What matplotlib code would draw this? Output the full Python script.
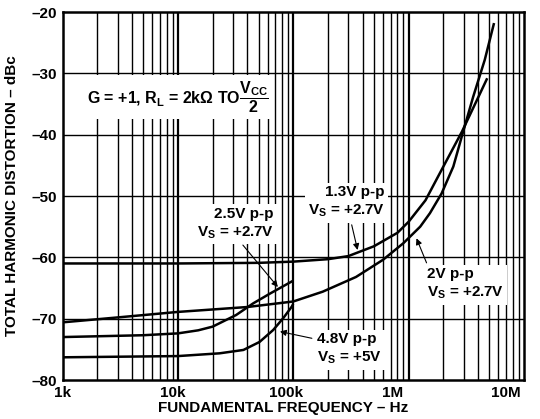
import numpy as np
import matplotlib
matplotlib.use("Agg")
import matplotlib.pyplot as plt
from matplotlib.ticker import FixedLocator, NullFormatter
from matplotlib.transforms import ScaledTranslation

plt.rcParams['font.family'] = ['Liberation Sans', 'DejaVu Sans']
plt.rcParams['font.weight'] = 'bold'
plt.rcParams['mathtext.fontset'] = 'custom'
plt.rcParams['mathtext.rm'] = 'Liberation Sans:bold'
plt.rcParams['mathtext.it'] = 'Liberation Sans:bold'
plt.rcParams['mathtext.bf'] = 'Liberation Sans:bold'
plt.rcParams['mathtext.default'] = 'rm'

# ---- data (Hz, dBc) ----
f_13 = [1e3, 1e4, 5e4, 1e5, 2e5, 3e5, 5e5, 8e5, 1e6, 1.4e6, 2e6, 2.9e6, 3.9e6, 4.8e6]
thd_13 = [-61.0, -61.0, -60.9, -60.7, -60.3, -59.8, -58.2, -56.0, -54.2, -50.7, -45.2, -39.5, -34.4, -30.8]

f_2 = [1e3, 3e3, 1e4, 4e4, 1e5, 1.8e5, 3.5e5, 6e5, 9e5, 1.26e6, 1.53e6, 1.93e6, 2.44e6, 2.97e6, 3.63e6, 4.57e6, 5.5e6]
thd_2 = [-70.6, -69.8, -68.9, -68.1, -67.2, -65.6, -63.2, -60.4, -57.7, -55.0, -52.8, -49.6, -45.2, -39.5, -33.8, -27.8, -21.8]

f_25 = [1e3, 5e3, 1e4, 1.5e4, 2e4, 3.2e4, 4.5e4, 6.3e4, 1e5]
thd_25 = [-73.0, -72.7, -72.4, -71.9, -71.3, -69.4, -67.5, -65.9, -63.8]

f_48 = [1e3, 1e4, 2.3e4, 3.7e4, 5.1e4, 6.7e4, 8.2e4, 9.7e4, 1e5]
thd_48 = [-76.3, -76.1, -75.65, -75.1, -73.8, -71.85, -69.9, -68.05, -67.6]

xticks = [1e3, 1e4, 1e5, 1e6, 1e7]
xticklabels = ['1k', '10k', '100k', '1M', '10M']
yticks = [-80, -70, -60, -50, -40, -30, -20]
yticklabels = ['\u201380', '\u201370', '\u201360', '\u201350', '\u201340', '\u201330', '\u201320']

FS = 11

fig = plt.figure(figsize=(5.4, 4.19), dpi=100)
ax = fig.add_axes([62.5/540, 1-380/419, (524-62.5)/540, (380-12)/419])
ax.set_xscale('log')
ax.set_xlim(1e3, 1e7)
ax.set_ylim(-80, -20)

# grid
minor = [m * 10**d for d in range(3, 7) for m in range(2, 10)]
ax.xaxis.set_major_locator(FixedLocator(xticks))
ax.xaxis.set_minor_locator(FixedLocator(minor))
ax.xaxis.set_minor_formatter(NullFormatter())
ax.set_yticks(yticks)
for x in minor:
    ax.axvline(x, color='black', lw=1.0, zorder=1)
for x in xticks[1:-1]:
    ax.axvline(x, color='black', lw=1.6, zorder=1)
for y in yticks[1:-1]:
    ax.axhline(y, color='black', lw=1.0, zorder=1)
for s in ax.spines.values():
    s.set_linewidth(1.8)
ax.tick_params(which='both', length=0, labelsize=FS, pad=4)
ax.set_xticklabels(xticklabels, fontweight='bold')
ax.set_yticklabels(yticklabels, fontweight='bold')
offs = [0, -5, -7, -16, -18]
for lab, o in zip(ax.get_xticklabels(), offs):
    lab.set_transform(lab.get_transform() + ScaledTranslation(o/100, 0, fig.dpi_scale_trans))

ax.set_xlabel('FUNDAMENTAL FREQUENCY \u2013 Hz', fontsize=FS, fontweight='bold')
ax.xaxis.set_label_coords(0.477, -0.058)
ax.set_ylabel('TOTAL HARMONIC DISTORTION \u2013 dBc', fontsize=FS, fontweight='bold')
ax.yaxis.set_label_coords(-0.094, 0.5)

# curves
for f, t in [(f_13, thd_13), (f_2, thd_2), (f_25, thd_25), (f_48, thd_48)]:
    ax.plot(f, t, color='black', lw=1.8, zorder=3, solid_capstyle='butt')

bb = dict(boxstyle='square,pad=0.25', facecolor='white', edgecolor='none')
ax.text(1.62e3, -33.9, 'G = +1, R$_L$ = 2k\u03a9 TO$\\dfrac{V_{CC}}{2}$', fontsize=FS + 0.5,
        fontweight='bold', va='center', ha='left', bbox=bb, zorder=2)

ax.text(6.7e4, -54.5, '2.5V p-p\nV$_S$ = +2.7V', fontsize=FS, fontweight='bold',
        ha='right', va='center', multialignment='right', linespacing=1.3, bbox=bb, zorder=2)
ax.text(6.2e5, -51.0, '1.3V p-p\nV$_S$ = +2.7V', fontsize=FS, fontweight='bold',
        ha='right', va='center', multialignment='right', linespacing=1.3, bbox=bb, zorder=2)
ax.text(1.44e6, -64.4, '2V p-p\nV$_S$ = +2.7V', fontsize=FS, fontweight='bold',
        ha='left', va='center', multialignment='left', linespacing=1.3, bbox=bb, zorder=2)
ax.text(1.6e5, -75.0, '4.8V p-p\nV$_S$ = +5V', fontsize=FS, fontweight='bold',
        ha='left', va='center', multialignment='left', linespacing=1.3, bbox=bb, zorder=2)

ap = dict(arrowstyle='-|>', lw=0.8, color='black', mutation_scale=9, shrinkA=0, shrinkB=0)
ax.annotate('', xy=(7.36e4, -64.84), xytext=(3.66e4, -58.0), arrowprops=ap, zorder=4)
ax.annotate('', xy=(3.61e5, -58.8), xytext=(3.21e5, -54.7), arrowprops=ap, zorder=4)
ax.annotate('', xy=(1.17e6, -56.9), xytext=(1.43e6, -60.9), arrowprops=ap, zorder=4)
ax.annotate('', xy=(7.67e4, -72.1), xytext=(1.45e5, -73.2), arrowprops=ap, zorder=4)

fig.savefig('out.png', dpi=100)
